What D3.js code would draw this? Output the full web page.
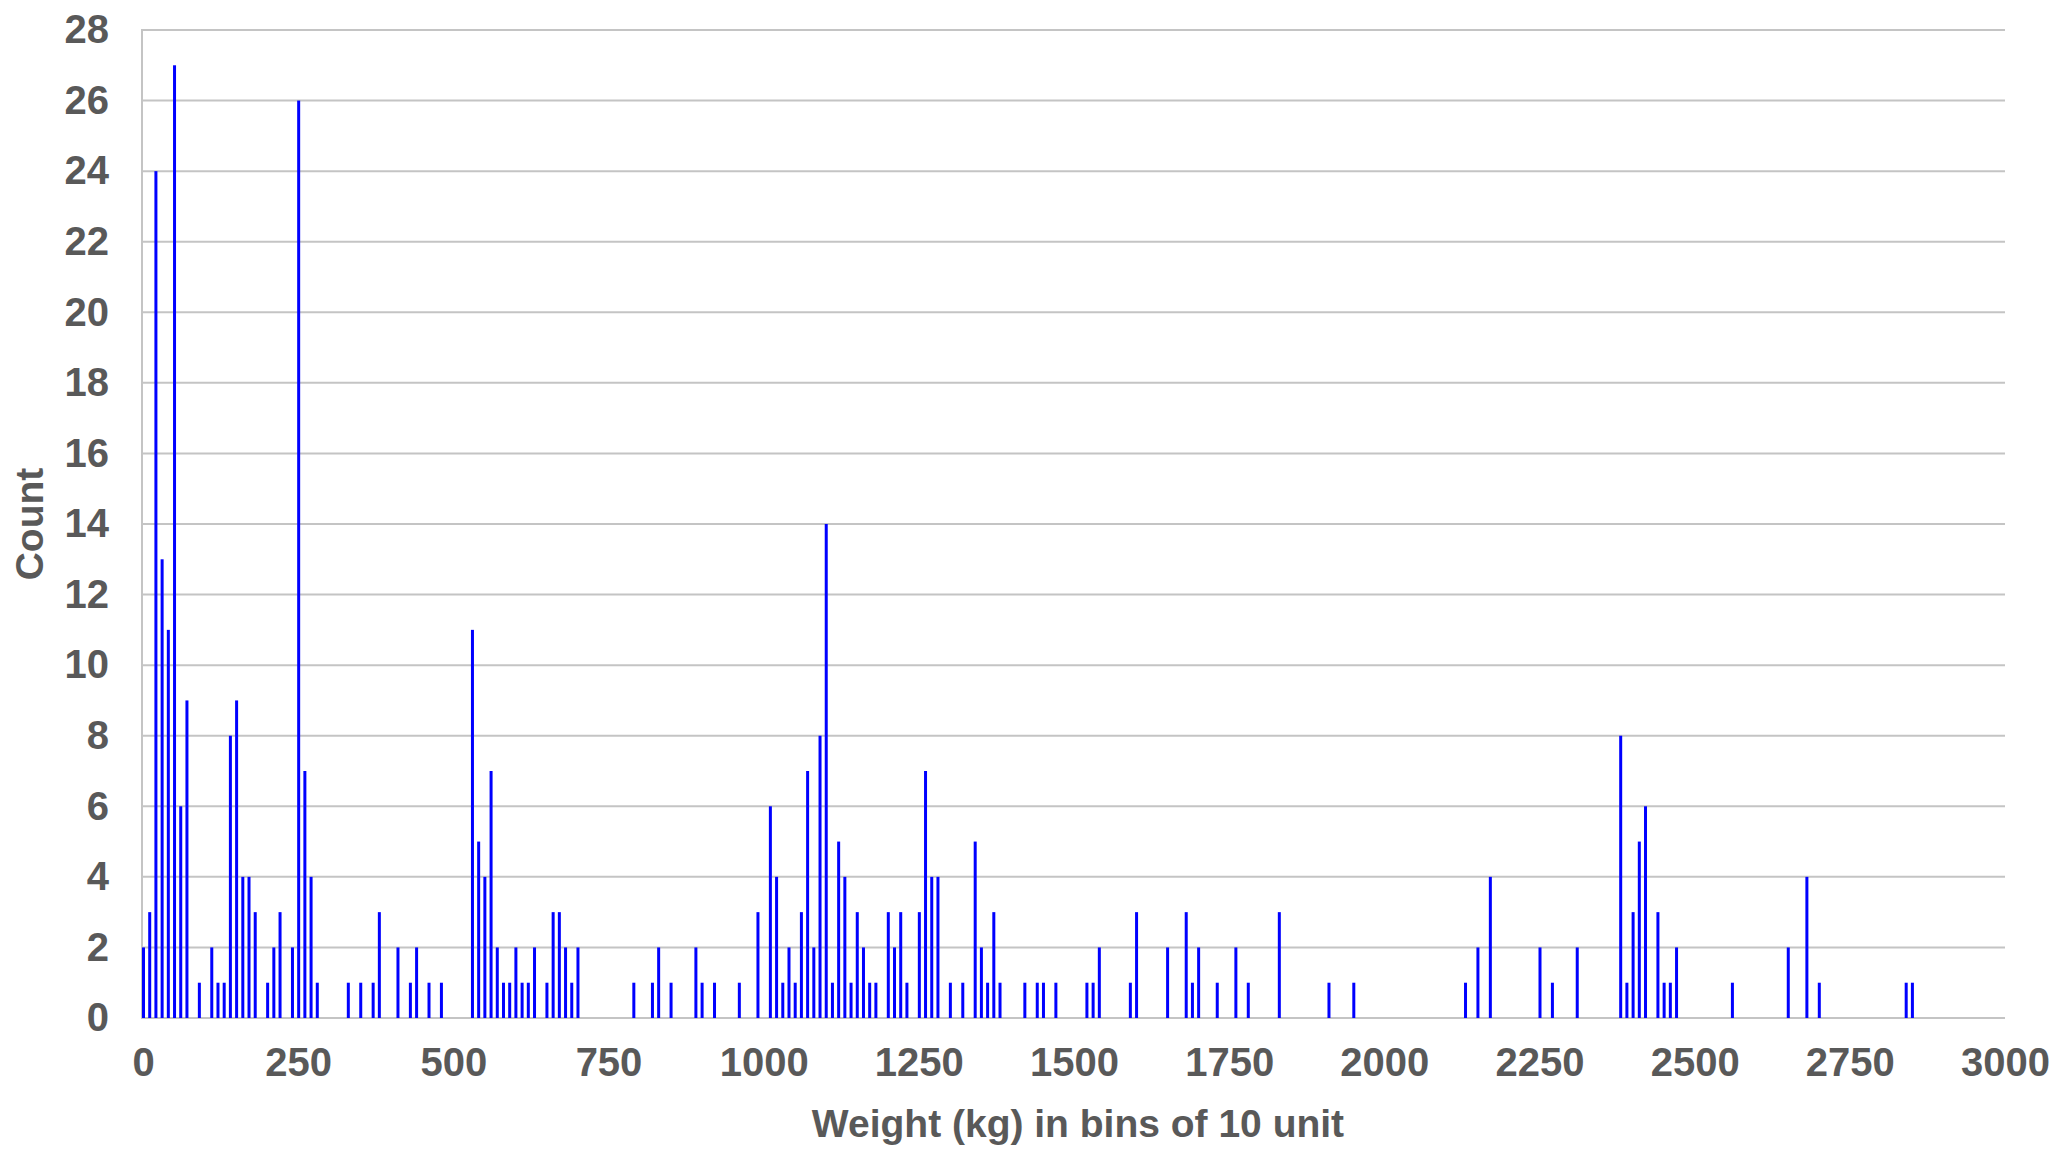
<!DOCTYPE html>
<html>
<head>
<meta charset="utf-8">
<script src="https://cdn.jsdelivr.net/npm/d3@7"></script>
<style>
  html, body { margin: 0; padding: 0; background: #ffffff; }
  svg { display: block; }
  text { font-family: "Liberation Sans", Arial, sans-serif; font-weight: bold; fill: #595959; }
</style>
</head>
<body>
<svg id="chart" width="2054" height="1158"></svg>
<script>
// Bin start values (kg, bins of 10)
const binStarts = [
  0, 10, 20, 30, 40, 50, 60, 70, 90, 110, 120, 130, 140, 150, 160, 170, 180, 200, 210, 220,
  240, 250, 260, 270, 280, 330, 350, 370, 380, 410, 430, 440, 460, 480,
  530, 540, 550, 560, 570, 580, 590, 600, 610, 620, 630, 650, 660, 670, 680, 690, 700,
  790, 820, 830, 850, 890, 900, 920, 960, 990,
  1010, 1020, 1030, 1040, 1050, 1060, 1070, 1080, 1090, 1100, 1110, 1120, 1130, 1140, 1150, 1160, 1170, 1180,
  1200, 1210, 1220, 1230, 1250, 1260, 1270, 1280, 1300, 1320, 1340, 1350, 1360, 1370, 1380,
  1420, 1440, 1450, 1470, 1520, 1530, 1540, 1590, 1600, 1650, 1680, 1690, 1700, 1730, 1760, 1780,
  1830, 1910, 1950, 2130, 2150, 2170, 2250, 2270, 2310,
  2380, 2390, 2400, 2410, 2420, 2440, 2450, 2460, 2470, 2560, 2650, 2680, 2700, 2840, 2850
];
// Counts per bin
const counts = [
  2, 3, 24, 13, 11, 27, 6, 9, 1, 2, 1, 1, 8, 9, 4, 4, 3, 1, 2, 3,
  2, 26, 7, 4, 1, 1, 1, 1, 3, 2, 1, 2, 1, 1,
  11, 5, 4, 7, 2, 1, 1, 2, 1, 1, 2, 1, 3, 3, 2, 1, 2,
  1, 1, 2, 1, 2, 1, 1, 1, 3,
  6, 4, 1, 2, 1, 3, 7, 2, 8, 14, 1, 5, 4, 1, 3, 2, 1, 1,
  3, 2, 3, 1, 3, 7, 4, 4, 1, 1, 5, 2, 1, 3, 1,
  1, 1, 1, 1, 1, 1, 2, 1, 3, 2, 3, 1, 2, 1, 2, 1,
  3, 1, 1, 1, 2, 4, 2, 1, 2,
  8, 1, 3, 5, 6, 3, 1, 1, 2, 1, 2, 4, 1, 1, 1
];
const xTicks = [0, 250, 500, 750, 1000, 1250, 1500, 1750, 2000, 2250, 2500, 2750, 3000];
const yTicks = [0, 2, 4, 6, 8, 10, 12, 14, 16, 18, 20, 22, 24, 26, 28];
const xTitle = "Weight (kg) in bins of 10 unit";
const yTitle = "Count";

const svg = d3.select("#chart");
const plotLeft = 143, plotRight = 2005, plotTop = 30, plotBottom = 1018;

const x = d3.scaleLinear().domain([0, 3000]).range([plotLeft, plotRight]);
const y = d3.scaleLinear().domain([0, 28]).range([plotBottom, plotTop]);

// Gridlines
svg.append("g").selectAll("line").data(yTicks).join("line")
  .attr("x1", plotLeft - 1).attr("x2", plotRight)
  .attr("y1", d => y(d)).attr("y2", d => y(d))
  .attr("stroke", "#c4c4c4").attr("stroke-width", 2);

// Left axis line
svg.append("line")
  .attr("x1", plotLeft - 1).attr("x2", plotLeft - 1)
  .attr("y1", y(28) - 1).attr("y2", y(0) + 1)
  .attr("stroke", "#c4c4c4").attr("stroke-width", 2);

// Bars
const data = binStarts.map((b, i) => ({ b, c: counts[i] }));
const barW = 3;
svg.append("g").selectAll("rect").data(data).join("rect")
  .attr("x", d => x(d.b) - barW / 2 + 0.5)
  .attr("width", barW)
  .attr("y", d => y(d.c))
  .attr("height", d => y(0) - y(d.c))
  .attr("fill", "#0000ff");

// Y axis
const yAxis = svg.append("g")
  .attr("transform", `translate(${plotLeft - 1},0)`)
  .call(d3.axisLeft(y).tickValues(yTicks).tickSize(0).tickPadding(33).tickFormat(d3.format("d")));
yAxis.select(".domain").remove();
yAxis.selectAll("text").style("font-size", "40px").attr("fill", "#595959")
  .style("font-family", '"Liberation Sans", Arial, sans-serif').style("font-weight", "bold");

// X axis
const xAxis = svg.append("g")
  .attr("transform", `translate(0,${plotBottom})`)
  .call(d3.axisBottom(x).tickValues(xTicks).tickSize(0).tickPadding(30).tickFormat(d3.format("d")));
xAxis.select(".domain").remove();
xAxis.selectAll("text").style("font-size", "40px").attr("fill", "#595959")
  .style("font-family", '"Liberation Sans", Arial, sans-serif').style("font-weight", "bold");

// Titles
svg.append("text")
  .attr("x", 1078).attr("y", 1137)
  .attr("text-anchor", "middle")
  .style("font-size", "39px")
  .text(xTitle);

svg.append("text")
  .attr("transform", `translate(43,${(plotTop + plotBottom) / 2}) rotate(-90)`)
  .attr("text-anchor", "middle")
  .style("font-size", "39px")
  .text(yTitle);
</script>
</body>
</html>
